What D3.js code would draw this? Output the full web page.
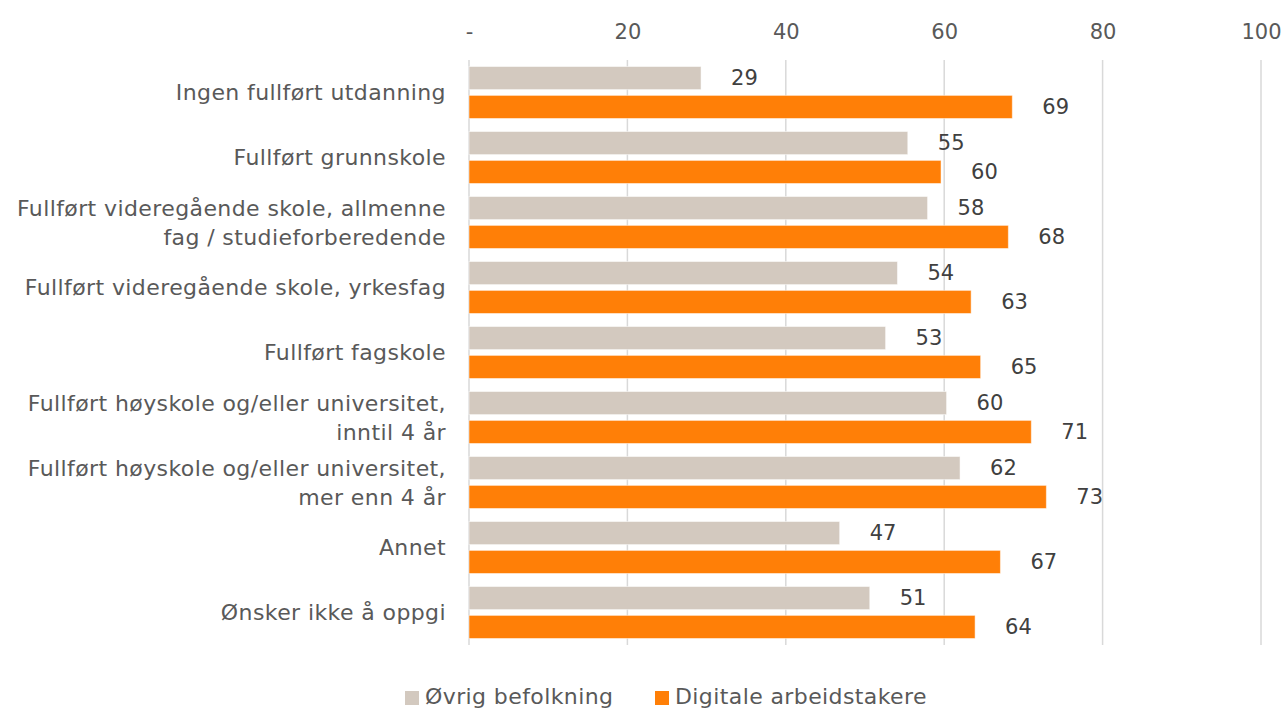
<!DOCTYPE html>
<html>
<head>
<meta charset="utf-8">
<script src="https://cdn.jsdelivr.net/npm/d3@7"></script>
<style>
  body { margin: 0; background: #fff; }
  svg { display: block; font-family: "DejaVu Sans", sans-serif; }
</style>
</head>
<body>
<svg id="chart" width="1286" height="711"></svg>
<script>
// categories (line breaks as in the original)
const categories = [
  'Ingen fullført utdanning',
  'Fullført grunnskole',
  'Fullført videregående skole, allmenne\nfag / studieforberedende',
  'Fullført videregående skole, yrkesfag',
  'Fullført fagskole',
  'Fullført høyskole og/eller universitet,\ninntil 4 år',
  'Fullført høyskole og/eller universitet,\nmer enn 4 år',
  'Annet',
  'Ønsker ikke å oppgi'
];
const seriesNames = ['Øvrig befolkning', 'Digitale arbeidstakere'];
const ovrig = [29.3, 55.4, 57.9, 54.1, 52.6, 60.3, 62.0, 46.8, 50.6];
const digitale = [68.6, 59.6, 68.1, 63.4, 64.6, 71.0, 72.9, 67.1, 63.9];
const tickValues = [0, 20, 40, 60, 80, 100];
const colors = ['#d3c9bf', '#ff7f07'];

const svg = d3.select('#chart');
const textColor = '#595959';

const x = d3.scaleLinear().domain([0, 100]).range([469, 1261]);
const y0 = d3.scaleBand().domain(categories).range([60, 645]);
const y1 = d3.scaleBand().domain(seriesNames).range([6.5, 58.5]).paddingInner(0.2);

// gridlines
svg.append('g')
  .selectAll('line')
  .data(tickValues)
  .join('line')
  .attr('x1', d => x(d)).attr('x2', d => x(d))
  .attr('y1', 60).attr('y2', 645)
  .attr('stroke', '#d9d9d9')
  .attr('stroke-width', 1.5);

// top axis
const axis = svg.append('g')
  .attr('transform', 'translate(0,39)')
  .call(d3.axisTop(x).tickValues(tickValues).tickSize(0).tickPadding(0)
    .tickFormat(d => d === 0 ? '-' : d));
axis.select('.domain').remove();
axis.selectAll('text')
  .attr('fill', textColor)
  .attr('font-size', 21)
  .attr('font-family', '"DejaVu Sans", sans-serif');

const rows = categories.map((c, i) => ({cat: c, vals: [ovrig[i], digitale[i]]}));

const group = svg.append('g')
  .selectAll('g')
  .data(rows)
  .join('g')
  .attr('transform', d => `translate(0,${y0(d.cat)})`);

group.selectAll('rect')
  .data(d => d.vals.map((v, j) => ({name: seriesNames[j], v, j})))
  .join('rect')
  .attr('x', x(0))
  .attr('y', d => y1(d.name))
  .attr('width', d => x(d.v) - x(0))
  .attr('height', y1.bandwidth())
  .attr('fill', d => colors[d.j])
  .attr('stroke', '#ffffff')
  .attr('stroke-opacity', 0.5)
  .attr('stroke-width', 1);

group.selectAll('text.val')
  .data(d => d.vals.map((v, j) => ({name: seriesNames[j], v})))
  .join('text')
  .attr('class', 'val')
  .attr('x', d => x(d.v) + 30)
  .attr('y', d => y1(d.name) + y1.bandwidth() / 2)
  .attr('dy', '0.35em')
  .attr('fill', '#404040')
  .attr('font-size', 21)
  .text(d => Math.round(d.v));

// category labels
const catText = group.append('text')
  .attr('text-anchor', 'end')
  .attr('fill', textColor)
  .attr('font-size', 22)
  .attr('letter-spacing', 0.4);

catText.each(function(d) {
  const lines = d.cat.split('\n');
  const t = d3.select(this);
  const mid = y0.bandwidth() / 2;
  lines.forEach((l, k) => {
    t.append('tspan')
      .attr('x', 446)
      .attr('y', mid + (k - (lines.length - 1) / 2) * 29)
      .attr('dy', '0.35em')
      .text(l);
  });
});

// legend (kept just inside the bottom edge)
const legend = svg.append('g')
  .selectAll('g')
  .data(seriesNames)
  .join('g')
  .attr('transform', (d, i) => `translate(${i === 0 ? 405 : 655},0)`);

legend.append('rect')
  .attr('x', 0).attr('y', 691)
  .attr('width', 14).attr('height', 14)
  .attr('fill', (d, i) => colors[i]);

legend.append('text')
  .attr('x', 20).attr('y', 704)
  .attr('fill', textColor)
  .attr('font-size', 22)
  .attr('letter-spacing', 0.4)
  .text(d => d);
</script>
</body>
</html>
